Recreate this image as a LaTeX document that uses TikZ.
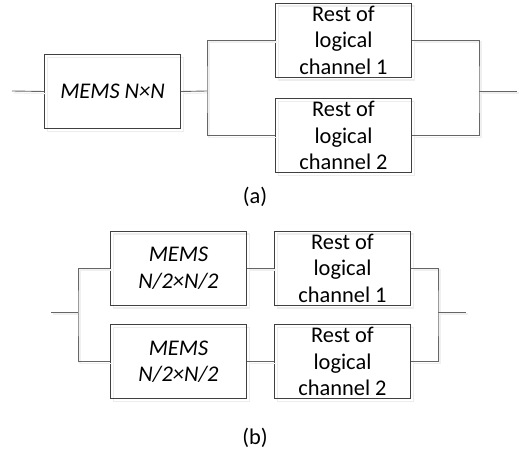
\documentclass[tikz,border=0pt]{standalone}
\usepackage{fontspec}
\setmainfont{Carlito}
\usetikzlibrary{positioning}

\tikzset{
  blockbox/.style={draw=black!75, line width=0.9bp, minimum width=136bp, minimum height=74bp,
    inner sep=0pt, align=center,
    preaction={draw=black!7, line width=1.2bp, transform canvas={shift={(3bp,-3bp)}}}},
  wire/.style={draw=black!60, line width=0.9bp,
    preaction={draw=black!6, line width=1.2bp, transform canvas={shift={(2bp,-2bp)}}}},
}

\begin{document}
\begin{tikzpicture}[x=1bp, y=-1bp, node font=\fontsize{22.4bp}{26.5bp}\selectfont]
    \useasboundingbox (0,0) rectangle (520,454);
    % (a) one switch, two channels
    \coordinate (ina) at (12,91);
    \node[blockbox, font=\itshape] (mems) at (112.5,91.5) {MEMS N×N};
    \node[blockbox] (resta1) at (343.5,40) {Rest of\\logical\\channel 1};
    \node[blockbox] (resta2) at (343.5,135.5) {Rest of\\logical\\channel 2};
    \coordinate (splita) at (207,91);
    \coordinate (joina) at (479,91);
    \coordinate (outa) at (517,91);
    \draw[wire] (ina) -- (mems.west);
    \draw[wire] (mems.east) -- (splita);
    \draw[wire] (resta1.west) -| (splita) |- (resta2.west);
    \draw[wire] (resta1.east) -| (joina) |- (resta2.east);
    \draw[wire] (joina) -- (outa);
    \node (capa) at (255,197) {(a)};
    % (b) two half switches
    \coordinate (inb) at (51,312);
    \coordinate (splitb) at (78,312);
    \node[blockbox, font=\itshape] (memsb1) at (178.5,268) {MEMS\\N/2×N/2};
    \node[blockbox, font=\itshape] (memsb2) at (178.5,361.5) {MEMS\\N/2×N/2};
    \node[blockbox] (restb1) at (342.5,268) {Rest of\\logical\\channel 1};
    \node[blockbox] (restb2) at (342.5,361.5) {Rest of\\logical\\channel 2};
    \coordinate (joinb) at (438,312);
    \coordinate (outb) at (466,312);
    \draw[wire] (inb) -- (splitb);
    \draw[wire] (memsb1.west) -| (splitb) |- (memsb2.west);
    \draw[wire] (memsb1.east) -- (restb1.west);
    \draw[wire] (memsb2.east) -- (restb2.west);
    \draw[wire] (restb1.east) -| (joinb) |- (restb2.east);
    \draw[wire] (joinb) -- (outb);
    \node (capb) at (255,438) {(b)};
\end{tikzpicture}
\end{document}
